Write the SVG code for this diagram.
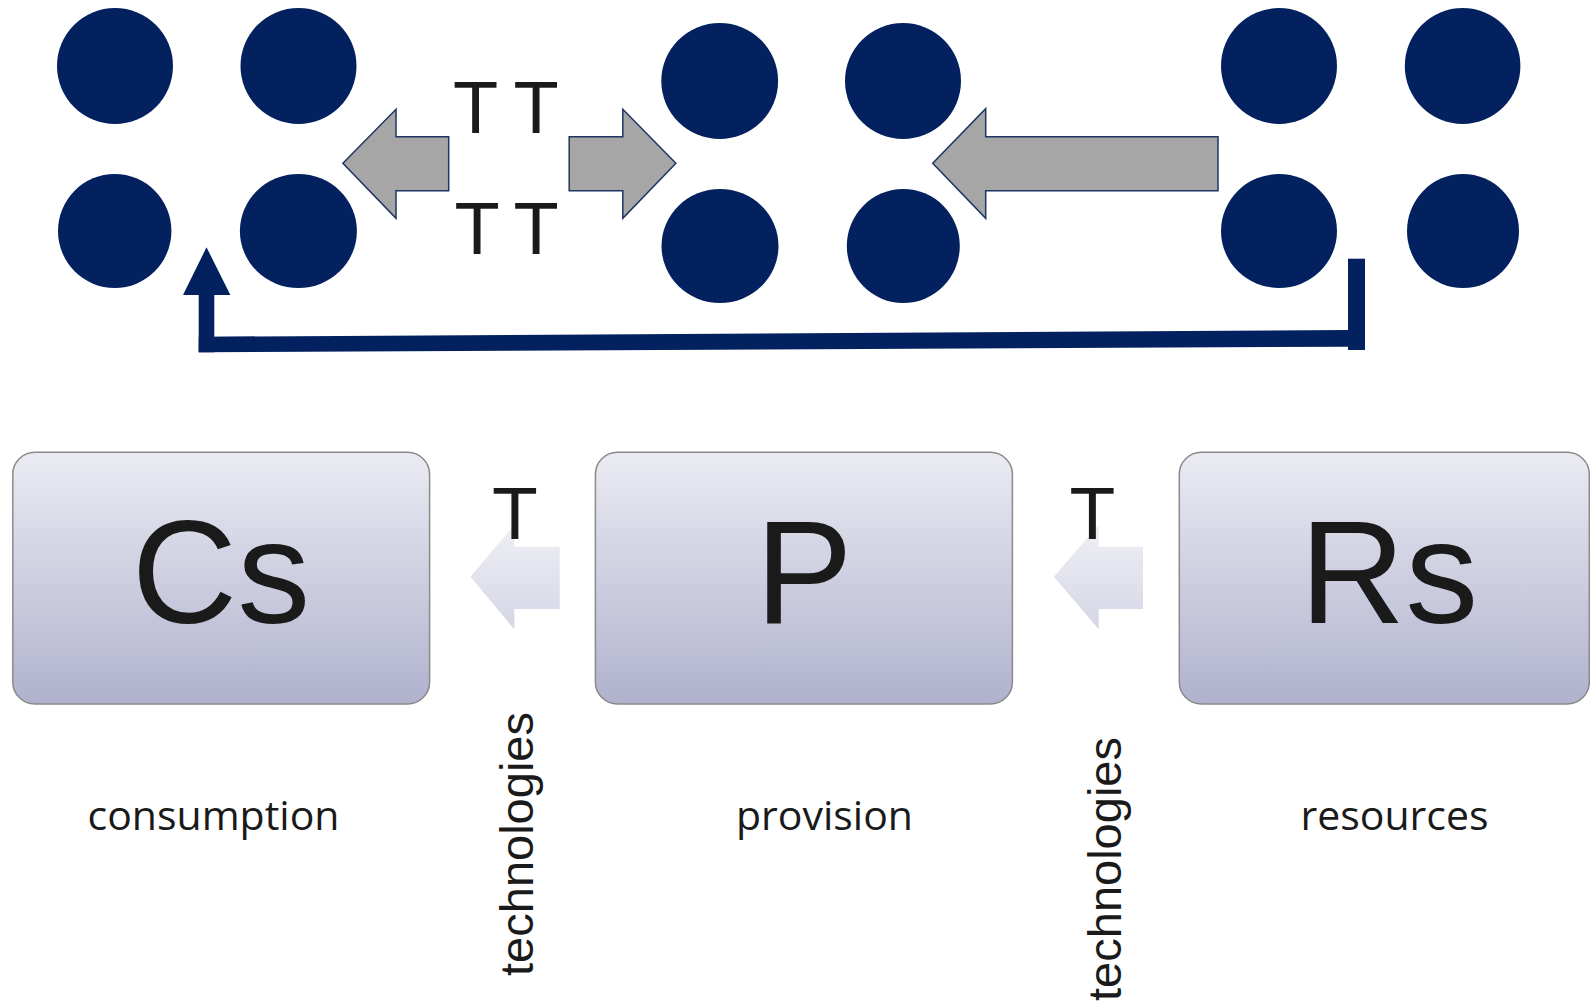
<svg xmlns="http://www.w3.org/2000/svg" width="1590" height="1005" viewBox="0 0 1590 1005">
<style>
.dot{fill:#03215F}
.garrow{fill:#A6A6A6;stroke:#1F3464;stroke-width:1.5;stroke-linejoin:miter}
.navy{fill:#03215F}
.box{fill:url(#boxGrad);stroke:#8A8A8A;stroke-width:1.5}
.larrow{fill:url(#arrGrad)}
.tee{font-family:"Liberation Sans",Arial,sans-serif;fill:#1A1A1A;text-anchor:middle}
.big{font-family:"Liberation Sans",Arial,sans-serif;font-size:146px;fill:#1A1A1A;text-anchor:middle}
.lbl{font-family:"Open Sans","Liberation Sans",sans-serif;font-size:41px;fill:#1A1A1A;text-anchor:middle}
.tech{font-family:"Liberation Sans",Arial,sans-serif;font-size:47px;fill:#1A1A1A;text-anchor:middle}
</style>
<defs>
<linearGradient id="boxGrad" x1="0" y1="0" x2="0" y2="1">
<stop offset="0" stop-color="#EAEBF2"/>
<stop offset="1" stop-color="#B0B2CE"/>
</linearGradient>
<linearGradient id="arrGrad" x1="0" y1="0" x2="0" y2="1">
<stop offset="0" stop-color="#EEEFF5"/>
<stop offset="1" stop-color="#D5D6E5"/>
</linearGradient>
</defs>
<rect width="1590" height="1005" fill="#FFFFFF"/>

<g id="consumers">
<ellipse class="dot" cx="115" cy="66" rx="58" ry="58"/>
<ellipse class="dot" cx="298.5" cy="66" rx="58" ry="58"/>
<ellipse class="dot" cx="114.7" cy="231" rx="56.7" ry="57"/>
<ellipse class="dot" cx="298.4" cy="231" rx="58.5" ry="57"/>
</g>
<g id="providers">
<ellipse class="dot" cx="719.7" cy="81" rx="58.4" ry="58"/>
<ellipse class="dot" cx="903" cy="81" rx="58" ry="58"/>
<ellipse class="dot" cx="720" cy="246" rx="58.5" ry="57"/>
<ellipse class="dot" cx="903.3" cy="246" rx="56.5" ry="57"/>
</g>
<g id="resources-dots">
<ellipse class="dot" cx="1279" cy="66" rx="58" ry="58"/>
<ellipse class="dot" cx="1462.6" cy="66" rx="57.8" ry="58"/>
<ellipse class="dot" cx="1279" cy="231" rx="58" ry="57"/>
<ellipse class="dot" cx="1463" cy="231" rx="56" ry="57"/>
</g>

<g id="connectors">
<polygon class="garrow" points="342.9,163.3 396,109.3 396,136.7 448.7,136.7 448.7,190.7 396,190.7 396,218.3"/>
<polygon class="garrow" points="675.9,163.3 622.8,109.3 622.8,136.7 569.2,136.7 569.2,190.7 622.8,190.7 622.8,218.3"/>
<polygon class="garrow" points="932.7,163.3 985.7,108.7 985.7,136.7 1218,136.7 1218,190.7 985.7,190.7 985.7,218.3"/>
<g id="feedback">
<polygon class="navy" points="198.7,336.7 1348,330 1348,346.7 198.7,352.3"/>
<rect class="navy" x="198.7" y="294" width="15.6" height="58.3"/>
<polygon class="navy" points="206.5,247.3 230.4,295 183,295"/>
<rect class="navy" x="1348" y="258.7" width="17" height="91.3"/>
</g>
<polygon class="larrow" points="470.4,576.7 514.3,525 514.3,546.7 559.7,546.7 559.7,609 514.3,609 514.3,629.3"/>
<polygon class="larrow" points="1053.8,576.7 1098.7,525 1098.7,546.7 1143,546.7 1143,609 1098.7,609 1098.7,629.3"/>
</g>

<g id="tech-top">
<text class="tee" x="475.5" y="132.7" font-size="74">T</text>
<text class="tee" x="536" y="132.7" font-size="74">T</text>
<text class="tee" x="477" y="253.7" font-size="74">T</text>
<text class="tee" x="536" y="253.7" font-size="74">T</text>
</g>

<g id="node-cs">
<rect class="box" x="12.8" y="452.3" width="416.8" height="251.7" rx="22" ry="22"/>
<text class="big" x="221" y="622.7">Cs</text>
<text class="lbl" x="213.5" y="830">consumption</text>
</g>
<g id="node-p">
<rect class="box" x="595.4" y="452.3" width="417" height="251.7" rx="22" ry="22"/>
<text class="big" x="804" y="622.7">P</text>
<text class="lbl" x="824.5" y="830">provision</text>
</g>
<g id="node-rs">
<rect class="box" x="1179.3" y="452.3" width="410" height="251.7" rx="22" ry="22"/>
<text class="big" x="1389" y="622.7">Rs</text>
<text class="lbl" x="1394.5" y="830">resources</text>
</g>

<g id="tech-1">
<text class="tee" x="515" y="538.7" font-size="75">T</text>
<text class="tech" transform="translate(533,844) rotate(-90)">technologies</text>
</g>
<g id="tech-2">
<text class="tee" x="1092.3" y="538.7" font-size="75">T</text>
<text class="tech" transform="translate(1121,869) rotate(-90)">technologies</text>
</g>
</svg>
